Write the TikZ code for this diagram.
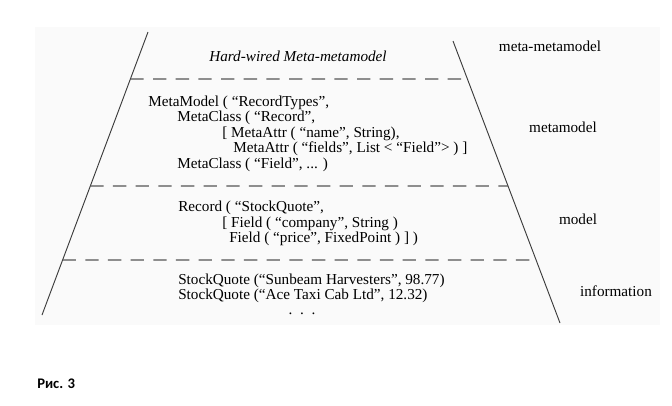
\documentclass[tikz,border=0pt]{standalone}
\usepackage{fontspec}
\setmainfont{Liberation Serif}
\newfontfamily\captionfont{Carlito}
\definecolor{panelgray}{RGB}{250, 250, 250}
\definecolor{linegray}{RGB}{60, 60, 60}
\definecolor{dashgray}{RGB}{85, 85, 85}
\usetikzlibrary{calc}
\tikzset{
  codeline/.style={anchor=base west, inner sep=0pt, font=\fontsize{11.4}{13}\selectfont},
  layerlabel/.style={anchor=base, inner sep=0pt, font=\fontsize{11.4}{13}\selectfont},
  sideline/.style={draw=linegray, line width=0.7pt},
  sepline/.style={draw=dashgray, line width=0.9pt, dash pattern=on 10pt off 7pt},
}

\begin{document}
\begin{tikzpicture}[x=0.75pt, y=-0.75pt]
\useasboundingbox (0,0) rectangle (672,405);
\fill[panelgray] (35,27) rectangle (660,325);

% slanted sides
\coordinate (lt) at (148,32);
\coordinate (lb) at (42,315);
\coordinate (rt) at (453,41);
\coordinate (rb) at (560,323);
\draw[sideline] (lt) -- (lb);
\draw[sideline] (rt) -- (rb);

% layer separators
\foreach \yy in {79,186,260}
  \draw[sepline] (intersection of lt--lb and 0,\yy--10,\yy) -- (intersection of rt--rb and 0,\yy--10,\yy);

% meta-metamodel
\node[layerlabel, font=\fontsize{11.4}{13}\selectfont\itshape] (hardwired) at (298,61) {Hard-wired Meta-metamodel};

% metamodel
\node[codeline] (mm1) at (148,106) {MetaModel ( “RecordTypes”,};
\node[codeline] (mm2) at (177,121) {MetaClass ( “Record”,};
\node[codeline] (mm3) at (222,137) {[ MetaAttr ( “name”, String),};
\node[codeline] (mm4) at (233,152) {MetaAttr ( “fields”, List < “Field”> ) ]};
\node[codeline] (mm5) at (177,168) {MetaClass ( “Field”, ... )};

% model
\node[codeline] (md1) at (178,211) {Record ( “StockQuote”,};
\node[codeline] (md2) at (222,227) {[ Field ( “company”, String )};
\node[codeline] (md3) at (229,242) {Field ( “price”, FixedPoint ) ] )};

% information
\node[codeline] (in1) at (178,284) {StockQuote (“Sunbeam Harvesters”, 98.77)};
\node[codeline] (in2) at (178,299) {StockQuote (“Ace Taxi Cab Ltd”, 12.32)};
\node[layerlabel] (dots) at (302,314) {.\ \ .\ \ .};

% layer names
\node[layerlabel] (lmeta2) at (550,51) {meta-metamodel};
\node[layerlabel] (lmeta) at (563,132) {metamodel};
\node[layerlabel] (lmodel) at (578,224) {model};
\node[layerlabel] (linfo) at (616,296) {information};

\node[anchor=base west, inner sep=0pt, font=\captionfont\bfseries\fontsize{11}{13}\selectfont] (caption) at (37,388) {Рис. 3};
\end{tikzpicture}
\end{document}
